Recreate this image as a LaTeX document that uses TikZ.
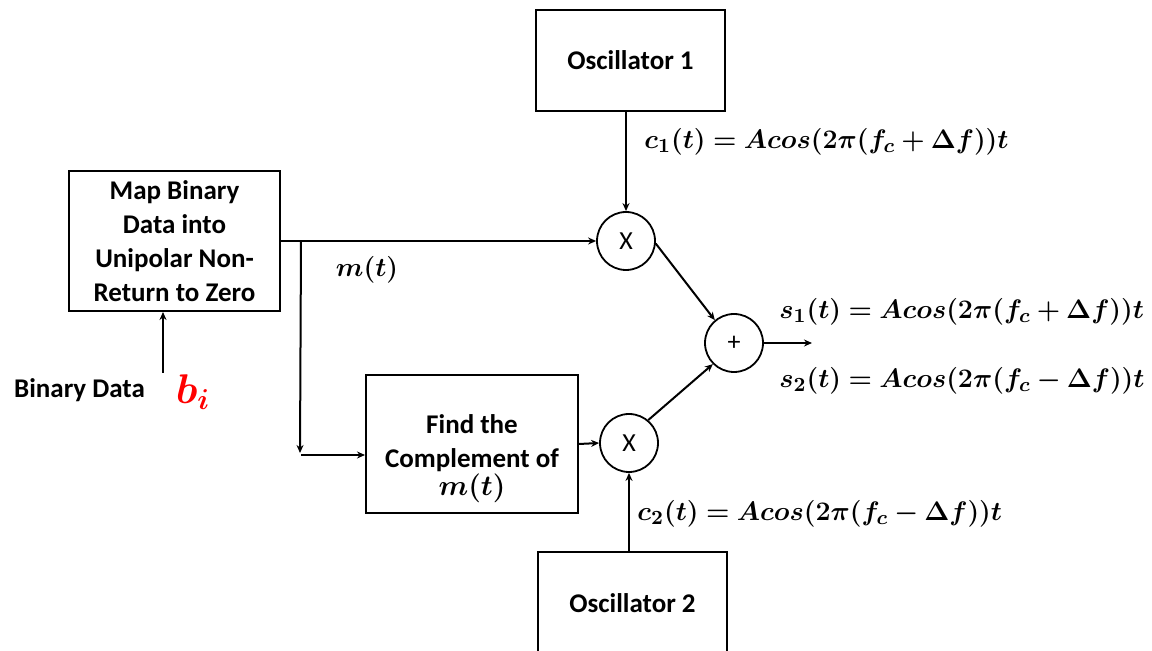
\documentclass[tikz,border=0pt]{standalone}
\usepackage{amsmath,bm,graphicx}
\usepackage{fontspec}
\setmainfont{Carlito}
\usetikzlibrary{positioning, arrows.meta, calc}
\newcommand{\sigtext}[1]{\scalebox{1.115}{$\bm{#1}$}}
\tikzset{
	block/.style={
		draw,
		line width=1pt,
		minimum width=94.5pt,
		minimum height=50.5pt,
		align=center,
		font=\bfseries\fontsize{13.5}{17}\selectfont
	},
	mixer/.style={
		draw,
		circle,
		line width=0.9pt,
		minimum size=29pt,
		inner sep=0pt,
		font=\fontsize{13}{15}\selectfont
	},
	signal/.style={
		font=\fontsize{13}{15}\selectfont,
		inner sep=0pt
	},
	flow/.style={
		line width=1pt,
		-{Stealth[length=4pt,width=3.5pt]}
	},
}

\begin{document}
\begin{tikzpicture}[x=0.5pt, y=-0.5pt]
	\useasboundingbox (0,0) rectangle (1152,651);

	% oscillators and blocks
	\node [block] (osc1) at (630.5,60.5) {Oscillator 1};
	\node [block, minimum width=105.5pt, minimum height=70pt] (map) at (174.5,241) {Map Binary\\Data into\\Unipolar Non-\\Return to Zero};
	\node [block, minimum width=106pt, minimum height=69pt, inner ysep=0pt] (compl) at (472,444) {\rule{0pt}{24pt}Find the\\Complement of\\[-3pt]$\bm{m(t)}$};
	\node [block] (osc2) at (632.5,603) {Oscillator 2};

	% mixers and adder
	\node [mixer] (mulA) at (626,241) {X};
	\node [mixer] (sum) at (734,343) {+};
	\node [mixer] (mulB) at (629,443) {X};

	% input
	\node [font=\bfseries\fontsize{13.5}{17}\selectfont, inner sep=0pt] (bindata) at (79.5,390) {Binary Data};
	\node [font=\fontsize{20}{22}\selectfont, text=red, inner sep=0pt] (bi) at (193,392) {$\bm{b_i}$};
	\coordinate (binTop) at (163,373);

	% signal labels
	\node [signal] (mlabel) at (367,270) {\sigtext{m(t)}};
	\node [signal, anchor=west] (c1label) at (644,142) {\sigtext{c_1(t) = A cos(2\pi(f_c + \Delta f))t}};
	\node [signal, anchor=west] (s1label) at (779,312) {\sigtext{s_1(t) = A cos(2\pi(f_c + \Delta f))t}};
	\node [signal, anchor=west] (s2label) at (779,381) {\sigtext{s_2(t) = A cos(2\pi(f_c - \Delta f))t}};
	\node [signal, anchor=west] (c2label) at (637,514) {\sigtext{c_2(t) = A cos(2\pi(f_c - \Delta f))t}};

	% branch points
	\coordinate (split) at ($(map.east)+(10pt,0)$);
	\coordinate (splitEnd) at (300,453);
	\coordinate (turn) at (301,455);
	\coordinate (out) at (812,343);

	% connections
	\draw [flow] (binTop) -- (binTop |- map.south);
	\draw [flow] (map.east) -- (mulA.west);
	\draw [flow] (split) -- (splitEnd);
	\draw [flow] (turn) -- (turn -| compl.west);
	\draw [flow] (osc1.south -| mulA) -- (mulA.north);
	\draw [flow] (compl.east) -- (mulB.west);
	\draw [flow] (osc2.north -| mulB) -- (mulB.south);
	\draw [flow] (mulA.-5) -- (sum.130);
	\draw [flow] (mulB.50) -- (sum.225);
	\draw [flow] (sum.east) -- (out);
\end{tikzpicture}
\end{document}
